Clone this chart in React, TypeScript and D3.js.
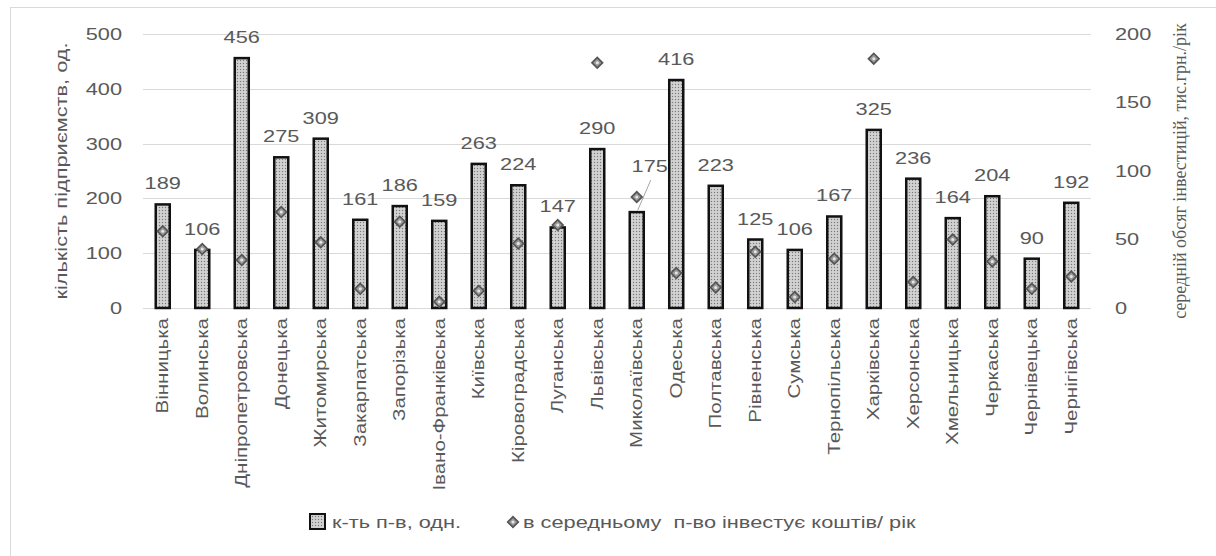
import { useEffect, useRef } from "react";
import * as d3 from "d3";

// regions of Ukraine
const regions = [
  "Вінницька", "Волинська", "Дніпропетровська", "Донецька", "Житомирська",
  "Закарпатська", "Запорізька", "Івано-Франківська", "Київська", "Кіровоградська",
  "Луганська", "Львівська", "Миколаївська", "Одеська", "Полтавська", "Рівненська",
  "Сумська", "Тернопільська", "Харківська", "Херсонська", "Хмельницька",
  "Черкаська", "Чернівецька", "Чернігівська",
];

// number of enterprises (left axis)
const enterprises = [
  189, 106, 456, 275, 309, 161, 186, 159, 263, 224, 147, 290,
  175, 416, 223, 125, 106, 167, 325, 236, 164, 204, 90, 192,
];

// average investment per enterprise, thous. UAH/year (right axis)
const investment = [
  56, 43, 35, 70, 48, 14, 63, 4.5, 12.5, 47, 60.5, 179,
  81, 25.5, 15, 41, 8, 36, 182, 19, 50, 34, 14, 23,
];

const leftTicks = [0, 100, 200, 300, 400, 500];
const rightTicks = [0, 50, 100, 150, 200];
const seriesNames = ["к-ть п-в, одн.", "в середньому  п-во інвестує коштів/ рік"];
const axisTitles = ["кількість підприємств, од.", "середній обсяг інвестицій, тис.грн./рік"];

const W = 1216;
const H = 556;
const SX = 1.28; // the sans text in the original is set wide
const GREY = "#595959";
const SANS = "'Liberation Sans', Arial, sans-serif";

const App = () => {
  const ref = useRef(null);

  useEffect(() => {
    if (!ref.current) return;
    const svg = d3.select(ref.current);
    svg.selectAll("*").remove();

    const plot = { left: 143, right: 1091, top: 34, bottom: 308 };

    const x = d3
      .scaleBand()
      .domain(regions)
      .range([plot.left, plot.right])
      .paddingInner(0.645)
      .paddingOuter(0.3225);
    const yL = d3.scaleLinear().domain([0, 500]).range([plot.bottom, plot.top]);
    const yR = d3.scaleLinear().domain([0, 200]).range([plot.bottom, plot.top]);
    const cx = (r: string) => x(r)! + x.bandwidth() / 2;

    // text helper, stretched along the writing direction
    const text = (
      g: any, px: number, py: number, s: string, size: number,
      anchor: string, rot = false, dy = "0"
    ) =>
      g.append("text")
        .attr("transform", `translate(${px},${py})${rot ? " rotate(-90)" : ""} scale(${SX},1)`)
        .attr("text-anchor", anchor)
        .attr("dy", dy)
        .attr("font-family", SANS)
        .attr("font-size", size)
        .attr("fill", GREY)
        .style("white-space", "pre")
        .text(s);

    // bar fill pattern
    const pat = svg.append("defs").append("pattern")
      .attr("id", "dots")
      .attr("patternUnits", "userSpaceOnUse")
      .attr("width", 3).attr("height", 3);
    pat.append("rect").attr("width", 3).attr("height", 3).attr("fill", "#c9c9c9");
    pat.append("rect").attr("width", 1).attr("height", 1).attr("fill", "#7a7a7a");
    pat.append("rect").attr("x", 1.5).attr("y", 1.5).attr("width", 1).attr("height", 1).attr("fill", "#f0f0f0");

    svg.append("rect").attr("width", W).attr("height", H).attr("fill", "#fff");
    // chart area border (cut by the picture on the right and bottom)
    svg.append("rect")
      .attr("x", 10.5).attr("y", 7.5).attr("width", 1400).attr("height", 700)
      .attr("fill", "none").attr("stroke", "#d9d9d9");

    // gridlines
    svg.append("g").selectAll("line")
      .data(leftTicks).enter().append("line")
      .attr("x1", plot.left).attr("x2", plot.right)
      .attr("y1", (d) => Math.round(yL(d)) + 0.5).attr("y2", (d) => Math.round(yL(d)) + 0.5)
      .attr("stroke", "#d9d9d9");

    // tick labels
    const axL = svg.append("g");
    leftTicks.forEach((t) => text(axL, 122, yL(t), String(t), 17, "end", false, "0.35em"));
    const axR = svg.append("g");
    rightTicks.forEach((t) => text(axR, 1115, yR(t), String(t), 17, "start", false, "0.35em"));

    // bars
    svg.append("g").selectAll("rect")
      .data(regions).enter().append("rect")
      .attr("x", (d) => x(d)!)
      .attr("width", x.bandwidth())
      .attr("y", (d, i) => yL(enterprises[i]))
      .attr("height", (d, i) => plot.bottom - yL(enterprises[i]))
      .attr("fill", "url(#dots)")
      .attr("stroke", "#111")
      .attr("stroke-width", 2.5);

    // bar value labels
    const labels = svg.append("g");
    regions.forEach((r, i) => {
      const top = yL(enterprises[i]);
      if (r === "Миколаївська") {
        // label moved aside in the original, with a leader line
        labels.append("line")
          .attr("x1", cx(r) + 14).attr("y1", top - 32)
          .attr("x2", cx(r) + 1).attr("y2", top - 2)
          .attr("stroke", "#a6a6a6");
        text(labels, cx(r) + 13, top - 40, String(enterprises[i]), 17, "middle");
      } else {
        text(labels, cx(r), top - 15, String(enterprises[i]), 17, "middle");
      }
    });

    // investment markers
    const diamond = d3.symbol(d3.symbolSquare, 56);
    const drawMarker = (g: any, px: number, py: number) => {
      g.append("path")
        .attr("d", diamond()!)
        .attr("transform", `translate(${px},${py}) rotate(45)`)
        .attr("fill", "#9a9a9a")
        .attr("stroke", "#555")
        .attr("stroke-width", 1.7);
      g.append("circle").attr("cx", px).attr("cy", py).attr("r", 1.5).attr("fill", "#e6e6e6");
    };
    const markers = svg.append("g");
    regions.forEach((r, i) => drawMarker(markers, cx(r), yR(investment[i])));

    // category labels
    const cat = svg.append("g");
    regions.forEach((r) => text(cat, cx(r), 318, r, 16, "end", true, "0.35em"));

    // axis titles
    text(svg, 67, (plot.top + plot.bottom) / 2, axisTitles[0], 17, "middle", true);
    svg.append("text")
      .attr("transform", `translate(1186,${(plot.top + plot.bottom) / 2}) rotate(-90)`)
      .attr("text-anchor", "middle")
      .attr("font-family", "'Liberation Serif', 'Times New Roman', serif")
      .attr("font-size", 18)
      .attr("fill", GREY)
      .text(axisTitles[1]);

    // legend
    const lg = svg.append("g");
    lg.append("rect")
      .attr("x", 310).attr("y", 514).attr("width", 15).attr("height", 15)
      .attr("fill", "url(#dots)").attr("stroke", "#111").attr("stroke-width", 2);
    text(lg, 332, 522, seriesNames[0], 17, "start", false, "0.35em");
    drawMarker(lg, 513, 522);
    text(lg, 523, 522, seriesNames[1], 17, "start", false, "0.35em");
  }, []);

  return (
    <svg
      ref={ref}
      width={W}
      height={H}
      style={{ position: "absolute", left: 0, top: 0, display: "block" }}
    />
  );
};

export default App;
